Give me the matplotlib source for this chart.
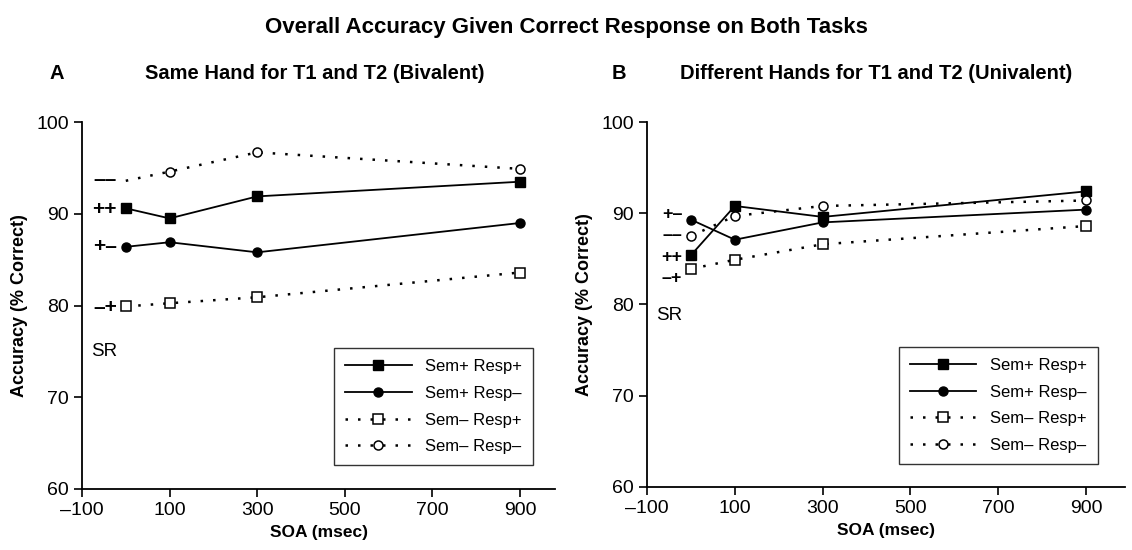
import numpy as np
from matplotlib import pyplot as plt

plt.rcParams['font.family'] = ['Liberation Sans', 'DejaVu Sans']

soa = [0, 100, 300, 900]
labels = ['Sem+ Resp+', 'Sem+ Resp\u2013', 'Sem\u2013 Resp+', 'Sem\u2013 Resp\u2013']

# panel A (same hand, bivalent)
a_pp = [90.6, 89.5, 91.9, 93.5]
a_pm = [86.4, 86.9, 85.8, 89.0]
a_mp = [79.9, 80.25, 80.9, 83.6]
a_mm = [93.6, 94.6, 96.7, 94.9]
# panel B (different hands, univalent)
b_pp = [85.4, 90.8, 89.6, 92.4]
b_pm = [89.3, 87.1, 89.0, 90.4]
b_mp = [83.9, 84.9, 86.6, 88.6]
b_mm = [87.5, 89.7, 90.8, 91.4]

# SR codes written at the left of each panel: (text, y)
a_codes = [('\u2013\u2013', 93.7), ('++', 90.5), ('+\u2013', 86.4), ('\u2013+', 79.8)]
b_codes = [('+\u2013', 89.9), ('\u2013\u2013', 87.6), ('++', 85.2), ('\u2013+', 82.8)]
a_sr_y, b_sr_y = 75.0, 78.8

xticks = [-100, 100, 300, 500, 700, 900]
yticks = [60, 70, 80, 90, 100]

fig = plt.figure(figsize=(11.32, 5.5), dpi=100)
axA = fig.add_axes([0.0724, 0.111, 0.418, 0.667])
axB = fig.add_axes([0.5716, 0.115, 0.422, 0.663])

dot = (0, (1.0, 4.0))

def draw(ax, pp, pm, mp, mm, codes, code_fs, sr_y, leg_anchor, mm_every=None, xmax=980):
    ax.plot(soa, pp, '-', color='k', lw=1.3, marker='s', ms=6.5, mfc='k', label=labels[0], zorder=3)
    ax.plot(soa, pm, '-', color='k', lw=1.3, marker='o', ms=6.5, mfc='k', label=labels[1], zorder=3)
    ax.plot(soa, mp, linestyle=dot, color='k', lw=1.8, marker='s', ms=6.5, mfc='white', mew=1.1, label=labels[2], zorder=3)
    ax.plot(soa, mm, linestyle=dot, color='k', lw=1.8, marker='o', ms=6.5, mfc='white', mew=1.1,
            markevery=mm_every, label=labels[3], zorder=3)
    for t, y in codes:
        ax.text(-20, y, t, ha='right', va='center', fontsize=code_fs, fontweight='bold')
    ax.text(-80, sr_y, 'SR', ha='left', va='center', fontsize=13.5)
    ax.set_xlim(-100, xmax)
    ax.set_ylim(60, 100)
    ax.set_xticks(xticks)
    ax.set_xticklabels(['\u2013100'] + [str(x) for x in xticks[1:]])
    ax.set_yticks(yticks)
    for s in ['top', 'right']:
        ax.spines[s].set_visible(False)
    for s in ['left', 'bottom']:
        ax.spines[s].set_linewidth(1.3)
    ax.tick_params(direction='out', length=6, width=1.2, labelsize=14)
    ax.set_xlabel('SOA (msec)', fontsize=12.5, fontweight='bold')
    ax.set_ylabel('Accuracy (% Correct)', fontsize=13, fontweight='bold', labelpad=6)
    leg = ax.legend(loc='lower right', bbox_to_anchor=leg_anchor, borderaxespad=0, fontsize=12,
                    handlelength=4, frameon=True, fancybox=False, edgecolor='k',
                    borderpad=0.65, labelspacing=0.7)
    leg.get_frame().set_linewidth(1.0)

draw(axA, a_pp, a_pm, a_mp, a_mm, a_codes, 15, a_sr_y, (0.953, 0.065), mm_every=[1, 2, 3], xmax=980)
draw(axB, b_pp, b_pm, b_mp, b_mm, b_codes, 13, b_sr_y, (0.943, 0.063), xmax=988)

fig.text(0.5, 0.95, 'Overall Accuracy Given Correct Response on Both Tasks',
         ha='center', va='center', fontsize=16, fontweight='bold')
fig.text(0.05, 0.867, 'A', ha='center', va='center', fontsize=14.5, fontweight='bold')
fig.text(0.278, 0.867, 'Same Hand for T1 and T2 (Bivalent)', ha='center', va='center', fontsize=14.5, fontweight='bold')
fig.text(0.547, 0.867, 'B', ha='center', va='center', fontsize=14.5, fontweight='bold')
fig.text(0.774, 0.867, 'Different Hands for T1 and T2 (Univalent)', ha='center', va='center', fontsize=14.5, fontweight='bold')

fig.savefig('out.png', dpi=100)
